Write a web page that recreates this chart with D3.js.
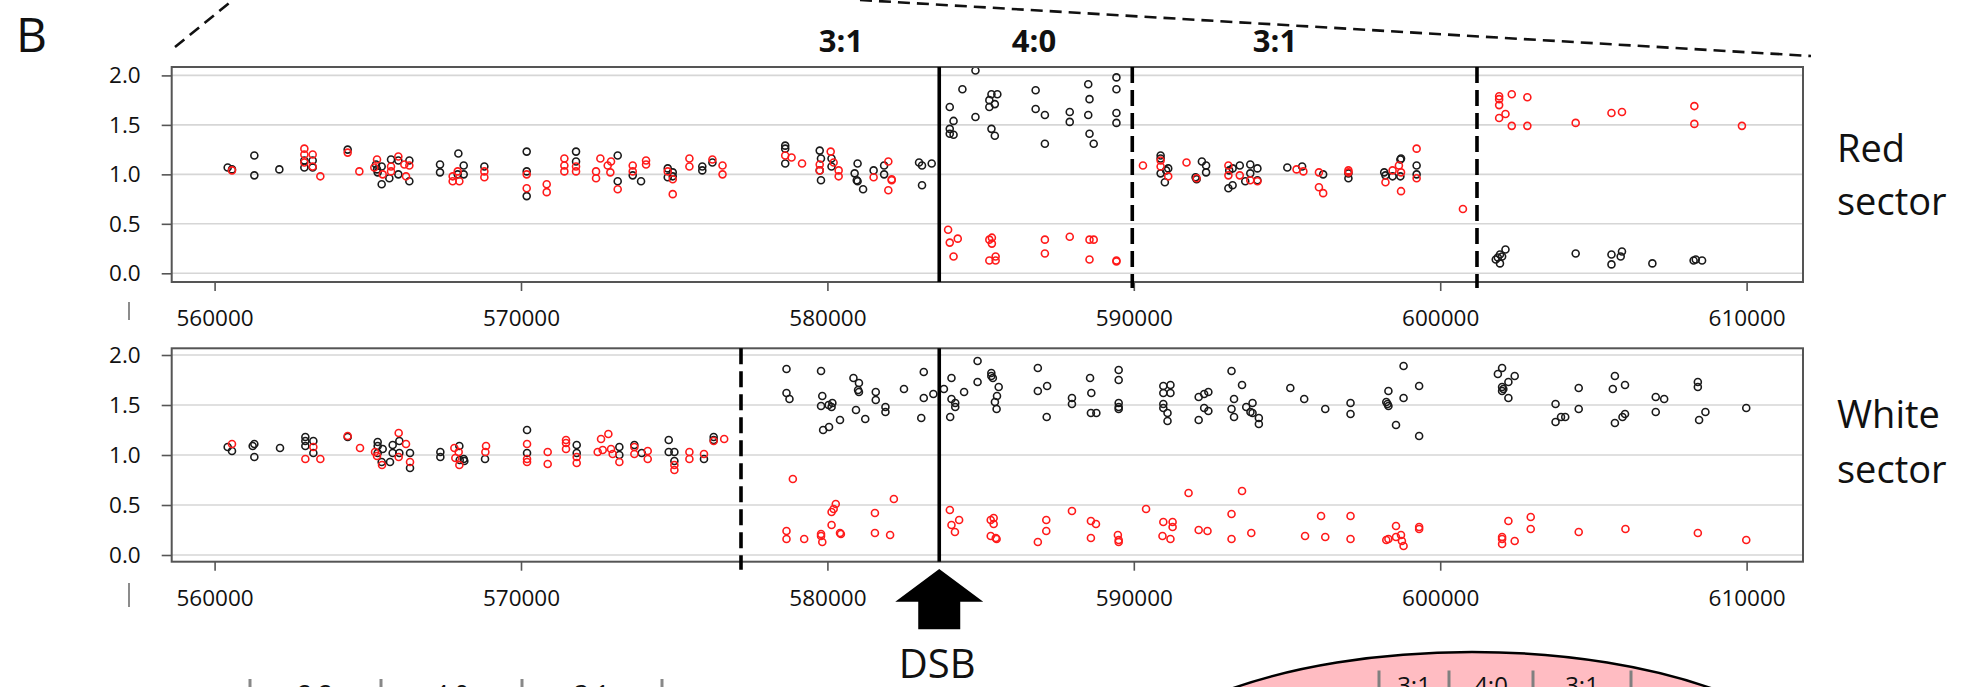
<!DOCTYPE html>
<html>
<head>
<meta charset="utf-8">
<script src="https://cdn.jsdelivr.net/npm/d3@7"></script>
<style>
  html, body { margin: 0; padding: 0; background: #ffffff; }
  svg { display: block; }
  text { font-family: "Open Sans", "Noto Sans", sans-serif; }
</style>
</head>
<body>
<svg id="chart" width="1961" height="687"></svg>
<script>
// ---- data ----------------------------------------------------------------
const xTicks = [560000, 570000, 580000, 590000, 600000, 610000];
const yTicks = [0, 0.5, 1.0, 1.5, 2.0];

// Red sector: [position, allele ratio]
const redSectorBlack = [
  [560427,1.07],[560568,1.05],[561297,1.19],[561297,0.99],[562113,1.05],[562929,1.14],[562929,1.07],
  [563201,1.14],[563201,1.07],[564343,1.25],[565268,1.10],[565301,1.05],[565322,1.02],[565453,1.08],
  [565453,0.90],[565703,0.96],[565758,1.15],[565997,1.14],[565997,1.00],[566356,1.14],[566356,0.93],
  [567357,1.10],[567357,1.02],[567956,1.21],[568130,1.09],[567934,1.00],[568130,1.00],[568804,1.08],
  [570186,1.23],[570186,1.03],[570186,0.78],[571796,1.23],[571796,1.13],[573156,1.19],[573156,0.93],
  [573646,0.99],[573918,0.93],[574789,1.06],[574789,0.97],[574952,1.02],[574952,0.98],
  [575917,1.08],[575917,1.04],[576247,1.12],[578623,1.29],[578623,1.26],[578623,1.11],[579749,1.24],
  [579790,1.16],[580134,1.16],[579749,1.04],[580134,1.08],[579790,0.94],[580985,1.11],[580889,1.01],
  [580958,0.94],[580985,0.93],[581164,0.85],[581508,1.04],[581851,1.09],[581851,1.00],[582991,1.12],
  [583088,1.09],[583404,1.11],[583088,0.89],
  [583993,1.68],[583993,1.46],[583993,1.41],[584117,1.54],[584117,1.40],[584406,1.86],[584832,2.05],
  [584832,1.58],[585285,1.75],[585285,1.68],[585354,1.81],[585546,1.81],[585464,1.71],[585354,1.46],
  [585464,1.39],[586796,1.85],[586796,1.66],[587098,1.60],[587098,1.31],[587909,1.63],[587909,1.53],
  [588513,1.91],[588554,1.76],[588513,1.60],[588554,1.41],[588691,1.31],[589433,1.98],[589433,1.86],
  [589433,1.62],[589433,1.52],
  [590875,1.19],[590875,1.16],[590875,1.01],[591013,0.92],[591055,1.04],[591123,1.06],[592016,0.97],
  [592050,0.95],[592222,1.13],[592359,1.09],[592359,1.02],[593114,1.04],[593224,1.06],[593087,0.86],
  [593224,0.89],[593458,1.09],[593637,0.93],[593801,1.10],[593801,1.01],[594034,1.06],[594034,0.94],
  [595010,1.07],[595493,1.08],[596180,1.00],[597004,1.01],[597004,0.96],[598172,1.02],[598213,0.99],
  [598446,0.98],[598700,1.15],[598721,1.16],[598700,0.98],[599230,1.09],[599230,1.00],
  [601813,0.14],[601950,0.19],[601950,0.10],[602020,0.17],[602130,0.24],[601880,0.16],[604421,0.20],
  [605589,0.19],[605589,0.09],[605890,0.17],[605932,0.22],[606924,0.10],[608270,0.13],[608340,0.14],
  [608546,0.13]
];
const redSectorRed = [
  [560568,1.04],[562929,1.26],[562929,1.20],[563201,1.20],[563201,1.08],[562929,1.12],[563451,0.98],
  [564343,1.22],[564724,1.03],[565301,1.15],[565213,1.07],[565486,1.00],[565758,1.08],[565758,1.03],
  [565997,1.18],[566193,1.10],[566356,1.09],[566247,0.98],[567770,0.98],[567770,0.93],[567934,1.03],
  [567988,0.93],[568804,1.03],[568804,0.97],[570186,1.00],[570186,0.86],[570839,0.90],[570839,0.82],
  [571415,1.16],[571415,1.09],[571415,1.03],[571796,1.08],[571796,1.03],[572590,1.16],[572449,1.03],
  [572449,0.96],[572830,1.09],[572938,1.13],[572916,1.02],[573156,0.85],[573646,1.09],[573646,1.03],
  [574081,1.14],[574081,1.10],[574789,1.03],[574952,0.95],[574952,0.80],[575496,1.16],[575496,1.08],
  [576247,1.15],[576577,1.09],[576577,1.00],[578623,1.19],[578830,1.17],[579172,1.11],[579749,1.10],
  [579749,1.04],[580107,1.23],[580203,1.12],[580367,1.04],[580367,0.98],[581508,0.97],[581988,1.13],
  [582098,0.95],[582098,0.94],[581988,0.84],
  [583939,0.44],[583993,0.31],[584254,0.35],[584117,0.17],[585285,0.34],[585368,0.36],[585368,0.30],
  [585285,0.13],[585490,0.17],[585490,0.13],[587098,0.34],[587098,0.20],[587909,0.37],[588554,0.34],
  [588691,0.34],[588554,0.14],[589433,0.13],[589433,0.12],
  [590298,1.09],[590875,1.14],[590875,1.08],[591123,0.98],[591720,1.12],[592050,0.96],[593087,1.09],
  [593087,0.99],[593458,0.99],[593801,0.94],[594034,0.93],[595311,1.05],[595534,1.03],[596042,1.02],
  [596042,0.87],[596180,0.81],[597004,1.04],[597004,1.02],[598213,0.92],[598446,1.04],[598652,1.09],
  [598721,1.02],[598721,0.83],[599230,1.26],[599230,0.96],[600741,0.65],
  [601923,1.79],[601923,1.76],[601923,1.70],[601923,1.57],[602130,1.61],[602335,1.81],[602335,1.49],
  [602844,1.78],[602844,1.49],[604421,1.52],[605589,1.62],[605932,1.63],[608294,1.69],[608294,1.51],
  [609847,1.49]
];

// White sector: [position, allele ratio]
const whiteSectorBlack = [
  [560427,1.08],[560568,1.04],[561243,1.09],[561297,1.11],[561297,0.98],[562135,1.07],[562962,1.18],
  [562962,1.14],[562962,1.09],[563223,1.14],[563223,1.02],[564343,1.18],[565322,1.13],[565322,1.09],
  [565322,1.02],[565453,0.93],[565486,1.06],[565725,0.93],[565812,1.10],[565812,1.02],[566029,1.14],
  [566029,1.02],[566378,1.02],[566378,0.87],[567368,1.03],[567368,0.98],[567988,1.09],[568000,0.95],
  [568130,0.96],[568150,0.94],[568826,0.96],[570197,1.25],[570197,1.02],[571818,1.10],[571818,1.02],
  [573210,1.08],[573210,1.00],[573700,1.10],[573940,1.02],[574821,1.15],[574821,1.03],[575006,1.03],
  [575006,0.94],[575972,0.96],[576288,1.18],[576288,1.15],
  [578665,1.86],[578665,1.62],[578762,1.56],[579792,1.84],[579833,1.59],[579792,1.49],[580040,1.50],
  [580136,1.48],[580162,1.52],[579860,1.25],[580053,1.28],[580411,1.35],[580850,1.77],[581029,1.72],
  [581001,1.65],[581029,1.63],[580933,1.45],[581235,1.36],[581578,1.63],[581578,1.55],[581894,1.48],
  [581894,1.43],[582499,1.66],[583145,1.83],[583145,1.57],[583063,1.37],[583458,1.61],[583802,1.66],
  [584049,1.77],[584049,1.56],[584172,1.52],[584172,1.48],[584007,1.38],[584461,1.63],[584901,1.94],
  [584901,1.73],[585350,1.82],[585350,1.79],[585400,1.77],[585590,1.68],[585535,1.59],[585467,1.53],
  [585522,1.46],[586868,1.87],[586868,1.64],[587170,1.69],[587157,1.38],[587981,1.57],[587981,1.51],
  [588572,1.77],[588613,1.62],[588600,1.42],[588778,1.42],[589506,1.85],[589506,1.75],[589506,1.52],
  [589506,1.48],[589506,1.46],[590963,1.69],[591196,1.70],[590963,1.62],[591196,1.62],[590963,1.51],
  [590963,1.47],[591100,1.42],[591100,1.34],[592117,1.58],[592296,1.61],[592433,1.63],[592296,1.47],
  [592433,1.44],[592117,1.35],[593189,1.84],[593532,1.70],[593271,1.56],[593189,1.46],[593271,1.38],
  [593669,1.48],[593875,1.52],[593807,1.43],[593875,1.42],[594081,1.37],[594081,1.31],[595108,1.67],
  [595561,1.56],[596248,1.46],[597073,1.52],[597073,1.41],[598240,1.53],[598280,1.51],[598310,1.49],
  [598309,1.64],[598557,1.30],[598804,1.89],[598804,1.57],[599312,1.69],[599312,1.19],
  [601882,1.81],[602019,1.87],[602225,1.73],[602431,1.79],[602019,1.68],[602019,1.64],[602060,1.66],
  [602225,1.57],[603764,1.51],[603764,1.33],[603943,1.38],[604080,1.38],[604520,1.67],[604520,1.46],
  [605633,1.66],[605701,1.79],[606031,1.70],[606031,1.41],[605949,1.38],[605701,1.32],[607034,1.58],
  [607309,1.56],[607034,1.43],[608408,1.73],[608408,1.68],[608655,1.43],[608449,1.35],[609988,1.47]
];
const whiteSectorRed = [
  [560568,1.11],[562962,0.96],[563223,1.08],[563451,0.96],[564343,1.19],[564746,1.07],[565236,1.03],
  [565301,0.99],[565464,0.90],[566008,1.22],[566008,0.98],[566247,1.11],[566378,0.93],[567825,1.07],
  [567857,0.97],[567966,1.03],[567988,0.90],[568859,1.09],[568837,1.03],[570197,1.11],[570197,0.96],
  [570197,0.93],[570871,1.03],[570871,0.91],[571469,1.15],[571469,1.12],[571469,1.06],[571818,0.98],
  [571818,0.92],[572612,1.16],[572851,1.21],[572503,1.03],[572667,1.05],[572938,1.06],[572992,1.01],
  [573210,0.93],[573700,1.08],[573700,1.01],[574136,1.04],[574136,0.96],[575006,0.90],[575006,0.85],
  [575496,1.03],[575496,0.96],[575972,1.01],[576288,1.14],[576631,1.16],
  [578872,0.76],[578665,0.24],[578665,0.16],[579242,0.16],[579792,0.21],[579792,0.19],[579833,0.13],
  [580273,0.51],[580204,0.46],[580136,0.43],[580136,0.30],[580411,0.22],[580440,0.21],[581551,0.42],
  [581551,0.22],[582046,0.20],[582169,0.56],[583996,0.45],[584049,0.30],[584299,0.35],[584162,0.23],
  [585330,0.35],[585426,0.37],[585426,0.31],[585330,0.19],[585495,0.17],[585522,0.16],[586868,0.13],
  [587143,0.35],[587143,0.24],[587981,0.44],[588600,0.34],[588765,0.31],[588600,0.17],[589480,0.20],
  [589506,0.15],[589506,0.13],[590400,0.46],[590963,0.33],[591266,0.33],[591266,0.28],[590936,0.19],
  [591196,0.16],[591787,0.62],[592117,0.25],[592405,0.24],[593189,0.41],[593532,0.64],[593189,0.16],
  [593834,0.22],[595589,0.19],[596111,0.39],[596248,0.18],[597073,0.39],[597073,0.16],[598240,0.15],
  [598309,0.16],[598557,0.29],[598557,0.18],[598720,0.20],[598750,0.14],[598804,0.09],[599312,0.28],
  [599312,0.26],[602225,0.34],[602019,0.18],[602019,0.16],[602019,0.11],[602431,0.14],[602954,0.38],
  [602954,0.26],[604520,0.23],[606045,0.26],[608408,0.22],[609988,0.15]
];

// Breakpoints (genomic positions) and segment labels
const redSectorBreaks   = [[583650, "solid"], [589950, "dashed"], [601200, "dashed"]];
const whiteSectorBreaks = [[577180, "dashed"], [583650, "solid"]];
const segmentLabels     = [["3:1", 580444], ["4:0", 586743], ["3:1", 594608]];
const dsbPosition       = 583650;
const panelNames        = [["Red", "sector"], ["White", "sector"]];

// Schematic strips along the bottom edge
const leftStripBars   = [250, 381, 522, 662];
const leftStripLabels = ["2:2", "4:0", "3:1"];
const ovalBars        = [1379, 1449, 1533, 1631];
const ovalLabels      = ["3:1", "4:0", "3:1"];

// ---- layout ----------------------------------------------------------------
const svg = d3.select("#chart");
const W = 1961, H = 687;
svg.append("rect").attr("width", W).attr("height", H).attr("fill", "#fff");

const xRange = [171.7, 1803];
const x = d3.scaleLinear().domain([558600, 611840]).range(xRange);

const panels = [
  { top: 67,    bottom: 282,   domain: [-0.088, 2.085], black: redSectorBlack,   red: redSectorRed,
    breaks: redSectorBreaks,   dashExtra: 6,  name: panelNames[0], nameY: [162, 215], stub: [302, 320] },
  { top: 348.3, bottom: 561.7, domain: [-0.067, 2.067], black: whiteSectorBlack, red: whiteSectorRed,
    breaks: whiteSectorBreaks, dashExtra: 8,  name: panelNames[1], nameY: [428, 483], stub: [583, 607] }
];

// zoom-in guide lines from the figure above
const guide = svg.append("g").attr("stroke", "#111").attr("stroke-width", 2.6)
  .attr("stroke-dasharray", "12,7").attr("fill", "none");
guide.append("line").attr("x1", 175).attr("y1", 47).attr("x2", 233).attr("y2", 0);
guide.append("line").attr("x1", 860).attr("y1", 0).attr("x2", 1811).attr("y2", 56);

svg.append("text").attr("x", 16).attr("y", 52).attr("font-size", 48).attr("fill", "#111").text("B");

// segment ratio labels
svg.append("g").selectAll("text").data(segmentLabels).join("text")
  .attr("x", d => x(d[1])).attr("y", 52)
  .attr("text-anchor", "middle").attr("font-size", 31).attr("font-weight", 700)
  .attr("fill", "#111").text(d => d[0]);

panels.forEach(p => {
  const y = d3.scaleLinear().domain(p.domain).range([p.bottom, p.top]);
  const g = svg.append("g");

  // horizontal grid
  g.append("g").selectAll("line").data(yTicks).join("line")
    .attr("x1", xRange[0]).attr("x2", xRange[1])
    .attr("y1", d => y(d)).attr("y2", d => y(d))
    .attr("stroke", "#d6d6d6").attr("stroke-width", 1.6);

  // y axis
  const ya = g.append("g").attr("transform", `translate(${xRange[0]},0)`)
    .call(d3.axisLeft(y).tickValues(yTicks).tickFormat(d3.format(".1f")).tickSize(10).tickPadding(21));
  ya.select(".domain").remove();
  ya.selectAll("line").attr("stroke", "#555").attr("stroke-width", 1.6);
  ya.selectAll("text").attr("font-size", 22.5).attr("fill", "#111")
    .attr("font-family", "'Open Sans', sans-serif");

  // x axis
  const xa = g.append("g").attr("transform", `translate(0,${p.bottom})`)
    .call(d3.axisBottom(x).tickValues(xTicks).tickFormat(d3.format("d")).tickSize(9).tickPadding(19));
  xa.select(".domain").remove();
  xa.selectAll("line").attr("stroke", "#555").attr("stroke-width", 1.6);
  xa.selectAll("text").attr("font-size", 22.5).attr("fill", "#111")
    .attr("font-family", "'Open Sans', sans-serif");

  // points
  g.append("g").selectAll("circle").data(p.black).join("circle")
    .attr("cx", d => x(d[0])).attr("cy", d => y(d[1])).attr("r", 3.5)
    .attr("fill", "none").attr("stroke", "#1a1a1a").attr("stroke-width", 1.6);
  g.append("g").selectAll("circle").data(p.red).join("circle")
    .attr("cx", d => x(d[0])).attr("cy", d => y(d[1])).attr("r", 3.5)
    .attr("fill", "none").attr("stroke", "#ff1a1a").attr("stroke-width", 1.6);

  // panel frame
  g.append("rect").attr("x", xRange[0]).attr("y", p.top)
    .attr("width", xRange[1] - xRange[0]).attr("height", p.bottom - p.top)
    .attr("fill", "none").attr("stroke", "#555").attr("stroke-width", 2);

  // breakpoints
  g.append("g").selectAll("line").data(p.breaks).join("line")
    .attr("x1", d => x(d[0])).attr("x2", d => x(d[0]))
    .attr("y1", p.top).attr("y2", d => d[1] === "solid" ? p.bottom : p.bottom + p.dashExtra)
    .attr("stroke", "#000").attr("stroke-width", 3.6)
    .attr("stroke-dasharray", d => d[1] === "solid" ? null : "16,7");

  // sector name
  g.append("g").selectAll("text").data(p.name).join("text")
    .attr("x", 1837).attr("y", (d, i) => p.nameY[i])
    .attr("font-size", 38).attr("fill", "#111").text(d => d);

  // small stub at the left
  g.append("line").attr("x1", 129).attr("x2", 129).attr("y1", p.stub[0]).attr("y2", p.stub[1])
    .attr("stroke", "#666").attr("stroke-width", 1.5);
});

// DSB arrow, tip under the break position
const ax = x(dsbPosition);
const arrow = d3.path();
arrow.moveTo(ax, 569);
arrow.lineTo(ax + 44, 601.7);
arrow.lineTo(ax + 21, 601.7);
arrow.lineTo(ax + 21, 629.3);
arrow.lineTo(ax - 21, 629.3);
arrow.lineTo(ax - 21, 601.7);
arrow.lineTo(ax - 44, 601.7);
arrow.closePath();
svg.append("path").attr("d", arrow.toString()).attr("fill", "#000");
svg.append("text").attr("x", ax - 2).attr("y", 678).attr("text-anchor", "middle")
  .attr("font-size", 40).attr("fill", "#111").text("DSB");

// schematic strip, bottom left (runs past the lower edge)
const strip = svg.append("g");
strip.selectAll("line").data(leftStripBars).join("line")
  .attr("x1", d => d).attr("x2", d => d).attr("y1", 679).attr("y2", 687)
  .attr("stroke", "#888").attr("stroke-width", 3);
strip.selectAll("text").data(leftStripLabels).join("text")
  .attr("x", (d, i) => (leftStripBars[i] + leftStripBars[i + 1]) / 2).attr("y", 703)
  .attr("text-anchor", "middle").attr("font-size", 25).attr("fill", "#111").text(d => d);

// oval schematic, bottom right
const oval = svg.append("g");
oval.append("ellipse").attr("cx", 1472).attr("cy", 802).attr("rx", 367).attr("ry", 150)
  .attr("fill", "#ffbcc2").attr("stroke", "#000").attr("stroke-width", 2.5);
oval.selectAll("line").data(ovalBars).join("line")
  .attr("x1", d => d).attr("x2", d => d).attr("y1", 670.5).attr("y2", 687)
  .attr("stroke", "#808080").attr("stroke-width", 3);
oval.selectAll("text").data(ovalLabels).join("text")
  .attr("x", (d, i) => (ovalBars[i] + ovalBars[i + 1]) / 2).attr("y", 694)
  .attr("text-anchor", "middle").attr("font-size", 24).attr("fill", "#111").text(d => d);
</script>
</body>
</html>
